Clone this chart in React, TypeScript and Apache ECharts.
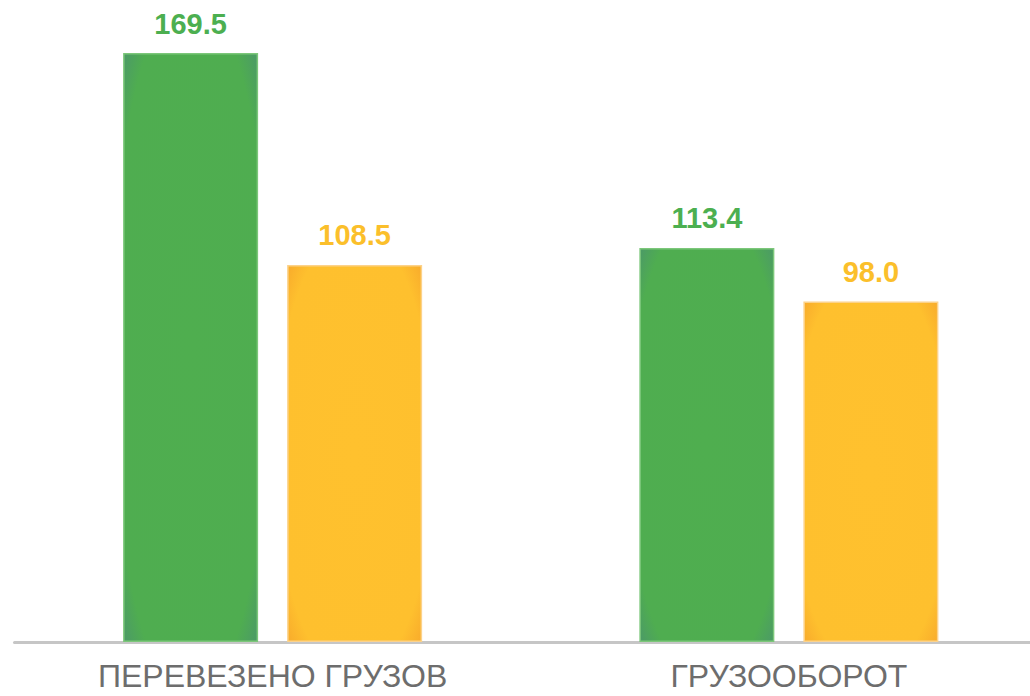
import React, { useEffect, useRef } from "react";
import * as echarts from "echarts";

const categories = ["ПЕРЕВЕЗЕНО ГРУЗОВ", "ГРУЗООБОРОТ"];
const seriesA = [169.5, 113.4];
const seriesB = [108.5, 98.0];

export default function App() {
  const ref = useRef<HTMLDivElement>(null);
  useEffect(() => {
    if (!ref.current) return;
    const chart = echarts.init(ref.current, null, { renderer: "svg" });
    const labelBase = {
      show: true,
      position: "top",
      distance: 15,
      fontFamily: "Liberation Sans, Arial, sans-serif",
      fontWeight: "bold",
      fontSize: 29,
      formatter: (p: any) => Number(p.value).toFixed(1),
    };
    chart.setOption({
      animation: false,
      grid: { left: 14.5, right: 0, top: 53, bottom: 54, containLabel: false },
      xAxis: {
        type: "category",
        data: categories,
        axisLine: { show: true, lineStyle: { color: "#c6c6c6", width: 3 } },
        axisTick: { show: false },
        axisLabel: {
          color: "#6d6d6d",
          fontFamily: "Liberation Sans, Arial, sans-serif",
          fontSize: 32,
          margin: 18,
        },
      },
      yAxis: {
        type: "value",
        min: 0,
        max: "dataMax",
        show: false,
        splitLine: { show: false },
      },
      series: [
        {
          type: "bar",
          data: seriesA,
          barWidth: 135,
          barGap: "21.5%",
          itemStyle: {
            color: {
              type: "radial",
              x: 0.5,
              y: 0.5,
              r: 0.75,
              colorStops: [
                { offset: 0, color: "#4fae4f" },
                { offset: 0.8, color: "#4fad50" },
                { offset: 1, color: "#4a9270" },
              ],
            },
            borderColor: "#7cc77a",
            borderWidth: 1.5,
          },
          label: { ...labelBase, color: "#4caf50" },
        },
        {
          type: "bar",
          data: seriesB,
          barWidth: 135,
          itemStyle: {
            color: {
              type: "radial",
              x: 0.5,
              y: 0.5,
              r: 0.75,
              colorStops: [
                { offset: 0, color: "#ffc12e" },
                { offset: 0.8, color: "#fec02e" },
                { offset: 1, color: "#f6a32a" },
              ],
            },
            borderColor: "#fcd28a",
            borderWidth: 1.5,
          },
          label: { ...labelBase, color: "#fbbf2b" },
        },
      ],
    });
    return () => chart.dispose();
  }, []);
  return (
    <div
      style={{
        position: "absolute",
        left: 0,
        top: 0,
        width: 1030,
        height: 696,
        overflow: "hidden",
      }}
    >
      <div ref={ref} style={{ width: 1047, height: 696 }} />
    </div>
  );
}
